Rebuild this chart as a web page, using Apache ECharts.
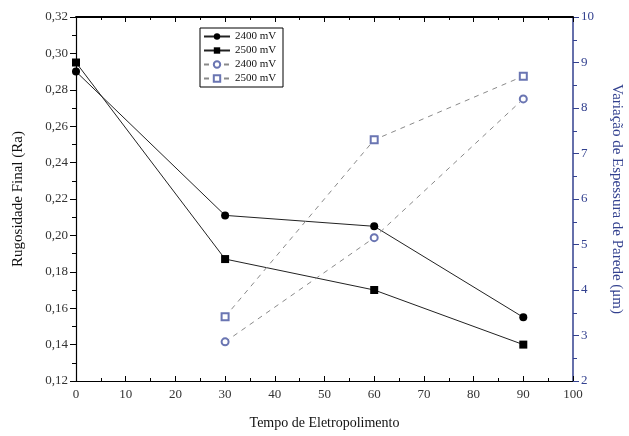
<!DOCTYPE html>
<html>
<head>
<meta charset="utf-8">
<script src="https://cdn.jsdelivr.net/npm/echarts@6/dist/echarts.min.js"></script>
<style>
  html, body { margin: 0; padding: 0; background: #fff; }
  #chart { width: 629px; height: 436px; }
</style>
</head>
<body>
<div id="chart"></div>
<script>
// tempo de eletropolimento
const tempo = [0, 30, 60, 90]
const tempoEsp = [30, 60, 90]
// rugosidade final (Ra)
const rug2400 = [0.290, 0.211, 0.205, 0.155]
const rug2500 = [0.295, 0.187, 0.170, 0.140]
// variação de espessura de parede (um)
const esp2400 = [2.86, 5.15, 8.2]
const esp2500 = [3.41, 7.3, 8.7]

const serif = "'Liberation Serif', 'DejaVu Serif', serif"
const blue = '#33418f'
const openBlue = '#6a75b2'

const chart = echarts.init(document.getElementById('chart'))

const pares = (xs, ys) => xs.map((x, i) => [x, ys[i]])

const option = {
  backgroundColor: '#fff',
  animation: false,
  textStyle: { fontFamily: serif },
  grid: { left: 76, right: 56, top: 17, bottom: 55, outerBoundsMode: 'none', containLabel: false },
  legend: {
    orient: 'vertical',
    left: 200,
    top: 28,
    itemWidth: 26,
    itemHeight: 8,
    itemGap: 3,
    padding: [3, 4, 3, 3],
    borderColor: '#000',
    borderWidth: 1,
    borderRadius: 0,
    textStyle: { fontFamily: serif, fontSize: 11, color: '#111' },
    data: ['2400 mV', '2500 mV', '2400 mV ', '2500 mV '],
  },
  xAxis: [
    {
      type: 'value',
      min: 0,
      max: 100,
      interval: 10,
      name: 'Tempo de Eletropolimento',
      nameLocation: 'middle',
      nameGap: 35,
      nameTextStyle: { fontFamily: serif, fontSize: 14, color: '#111' },
      axisLine: { lineStyle: { color: '#000', width: 1.2 } },
      axisTick: { inside: true, length: 5, lineStyle: { color: '#000' } },
      minorTick: { show: true, splitNumber: 2, length: 3, lineStyle: { color: '#000' } },
      axisLabel: { fontFamily: serif, fontSize: 13, color: '#333', margin: 7 },
      splitLine: { show: false },
    },
    {
      type: 'value',
      position: 'top',
      min: 0,
      max: 100,
      interval: 10,
      axisLine: { onZero: false, lineStyle: { color: '#000', width: 1.8 } },
      axisTick: { inside: true, length: 5, lineStyle: { color: '#000' } },
      minorTick: { show: true, splitNumber: 2, length: 3, lineStyle: { color: '#000' } },
      axisLabel: { show: false },
      splitLine: { show: false },
    },
  ],
  yAxis: [
    {
      type: 'value',
      min: 0.12,
      max: 0.32,
      interval: 0.02,
      name: 'Rugosidade Final (Ra)',
      nameLocation: 'middle',
      nameGap: 50,
      nameTextStyle: { fontFamily: serif, fontSize: 15, color: '#111' },
      axisLine: { show: true, onZero: false, lineStyle: { color: '#000', width: 1.2 } },
      axisTick: { length: 6, lineStyle: { color: '#000' } },
      minorTick: { show: true, splitNumber: 2, length: 4, lineStyle: { color: '#000' } },
      axisLabel: {
        fontFamily: serif,
        fontSize: 13,
        color: '#333',
        margin: 8,
        formatter: v => v.toFixed(2).replace('.', ','),
      },
      splitLine: { show: false },
    },
    {
      type: 'value',
      min: 2,
      max: 10,
      interval: 1,
      name: 'Variação de Espessura de Parede (μm)',
      nameLocation: 'middle',
      nameRotate: -90,
      nameGap: 36,
      nameTextStyle: { fontFamily: serif, fontSize: 15, color: blue },
      axisLine: { show: true, onZero: false, lineStyle: { color: blue, width: 1.5 } },
      axisTick: { length: 6, lineStyle: { color: blue } },
      minorTick: { show: true, splitNumber: 2, length: 4, lineStyle: { color: blue } },
      axisLabel: { fontFamily: serif, fontSize: 13, color: blue, margin: 8 },
      splitLine: { show: false },
    },
  ],
  series: [
    {
      name: '2400 mV',
      type: 'line',
      data: pares(tempo, rug2400),
      symbol: 'circle',
      symbolSize: 8,
      itemStyle: { color: '#000' },
      lineStyle: { color: '#222', width: 1 },
    },
    {
      name: '2500 mV',
      type: 'line',
      data: pares(tempo, rug2500),
      symbol: 'rect',
      symbolSize: 8,
      itemStyle: { color: '#000' },
      lineStyle: { color: '#222', width: 1 },
    },
    {
      name: '2400 mV ',
      type: 'line',
      yAxisIndex: 1,
      data: pares(tempoEsp, esp2400),
      symbol: 'emptyCircle',
      symbolSize: 7,
      itemStyle: { color: openBlue, borderWidth: 1 },
      lineStyle: { color: '#8a8a8a', width: 1, type: [5, 5] },
    },
    {
      name: '2500 mV ',
      type: 'line',
      yAxisIndex: 1,
      data: pares(tempoEsp, esp2500),
      symbol: 'emptyRect',
      symbolSize: 7,
      itemStyle: { color: openBlue, borderWidth: 1 },
      lineStyle: { color: '#8a8a8a', width: 1, type: [5, 5] },
    },
  ],
}

chart.setOption(option)
</script>
</body>
</html>
